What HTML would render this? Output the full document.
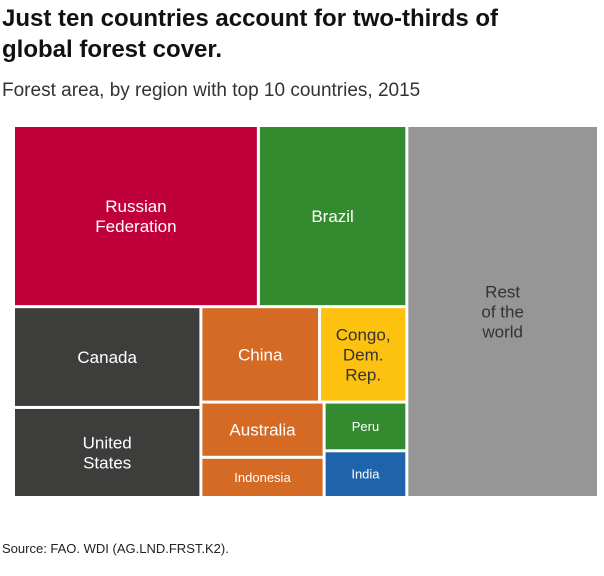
<!DOCTYPE html>
<html><head><meta charset="utf-8"><style>
body{margin:0;width:604px;height:576px;background:#fff;font-family:"Liberation Sans",sans-serif;position:relative;overflow:hidden}
#title{position:absolute;left:2px;top:3px;font-size:24px;font-weight:bold;line-height:31px;color:#111;width:550px}
#sub{position:absolute;left:2px;top:80px;font-size:19px;color:#333}
#src{position:absolute;left:2px;top:541px;font-size:13px;color:#222}
svg{position:absolute;left:0;top:0}
</style></head><body>
<div id="title">Just ten countries account for two-thirds of global forest cover.</div>
<div id="sub">Forest area, by region with top 10 countries, 2015</div>
<div id="src">Source: FAO. WDI (AG.LND.FRST.K2).</div>
<svg id="chart" width="604" height="576"></svg>
<script>
const names=["Russian\nFederation","Brazil","Canada","United\nStates","China","Congo,\nDem.\nRep.","Australia","Indonesia","Peru","India","Rest\nof the\nworld"];
const values=[8.15,4.94,3.47,3.10,2.08,1.53,1.25,0.91,0.74,0.71,13.1];
const colors=["#c0003a","#338a2f","#3d3d3c","#3d3d3c","#d56a25","#fdc20f","#d56a25","#d56a25","#338a2f","#1f64ab","#969696"];
const fontSizes=[17,17,17,17,17,17,17,13,13,13,17];
// tree structure: [direction, children]; leaf = index
const tree=["h",[["v",[["h",[0,1]],["h",[["v",[2,3]],["v",[["h",[4,5]],["h",[["v",[6,7]],["v",[8,9]]]]]]]]]],10]];
function sum(n){return typeof n==="number"?values[n]:n[1].reduce((a,c)=>a+sum(c),0);}
const svg=document.getElementById('chart');const NS="http://www.w3.org/2000/svg";
function layout(n,x,y,w,h){
 if(typeof n==="number"){draw(n,x,y,w,h);return;}
 const t=sum(n);let off=0;
 n[1].forEach(c=>{const f=sum(c)/t;
  if(n[0]==="h"){layout(c,x+off,y,w*f,h);off+=w*f;}else{layout(c,x,y+off,w,h*f);off+=h*f;}});
}
function draw(i,x,y,w,h){
 const r=document.createElementNS(NS,'rect');
 
 
 r.setAttribute('x',x+1.5);r.setAttribute('y',y+1.5);r.setAttribute('width',w-3);r.setAttribute('height',h-3);
 r.setAttribute('fill',colors[i]);svg.appendChild(r);
 const lines=names[i].split('\n');const fs=fontSizes[i];const lh=fs*1.18;
 const tx=document.createElementNS(NS,'text');
 
 
 tx.setAttribute('text-anchor','middle');tx.setAttribute('font-size',fs);
 tx.setAttribute('fill',(i===5||i===10)?'#333':'#fff');
 const y0=y+h/2-(lines.length-1)*lh/2+fs*0.35;
 lines.forEach((l,k)=>{const s=document.createElementNS(NS,'tspan');s.setAttribute('x',x+w/2);s.setAttribute('y',y0+k*lh);s.textContent=l;tx.appendChild(s);});
 svg.appendChild(tx);
}
layout(tree,13.5,125.5,585,372);
</script>
</body></html>
